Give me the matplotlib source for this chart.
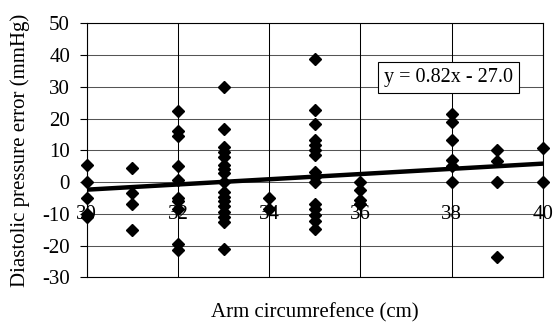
import numpy as np
import matplotlib
matplotlib.use("Agg")
import matplotlib.pyplot as plt

plt.rcParams['font.family'] = ['Liberation Serif', 'DejaVu Serif']
plt.rcParams['axes.unicode_minus'] = False

# arm circumference (cm) and diastolic error (mmHg)
arm_30 = [5.5, 0, -5, -10, -11]
arm_31 = [4.5, -3.5, -7, -15]
arm_32 = [22.5, 16, 14.5, 5, 0.5, -5, -6, -8.5, -19.5, -21.5]
arm_33 = [30, 16.8, 11, 9.5, 8, 5.5, 4, 2.8, 0, -3, -4.6, -6, -7.7, -9.3, -10.9, -12.7, -21]
arm_34 = [-5, -8.5]
arm_35 = [38.7, 22.8, 18.3, 13.3, 11.7, 10, 8.6, 3.3, 1.7, 0, -7, -8.5, -10.3, -12.4, -14.7]
arm_36 = [0, -2.5, -5.6, -7]
arm_38 = [21.5, 19, 13.3, 6.8, 5, 0]
arm_39 = [10, 6.5, 0, -23.5]
arm_40 = [10.8, 0]

groups = {30: arm_30, 31: arm_31, 32: arm_32, 33: arm_33, 34: arm_34,
          35: arm_35, 36: arm_36, 38: arm_38, 39: arm_39, 40: arm_40}

slope = 0.82
intercept = -27.0
x_ticks = [30, 32, 34, 36, 38, 40]
y_ticks = [-30, -20, -10, 0, 10, 20, 30, 40, 50]

fig = plt.figure(figsize=(5.53, 3.27), dpi=100)
ax = fig.add_axes([0.1568, 0.152, 0.8246, 0.7767])

xs = []
ys = []
for k, v in groups.items():
    xs += [k] * len(v)
    ys += v

for yt in y_ticks:
    ax.axhline(yt, color='#555555', lw=0.75, zorder=1)
for xt in x_ticks:
    ax.axvline(xt, color='black', lw=0.75, zorder=1)

ax.plot(xs, ys, 'D', color='black', ms=6.5, zorder=3, clip_on=False)

lx = np.array([30, 40])
ax.plot(lx, slope * lx + intercept, color='black', lw=3.2, zorder=4)

ax.set_xlim(30, 40)
ax.set_ylim(-30, 50)
ax.set_yticks(y_ticks)
ax.set_xticks([])
ax.tick_params(axis='y', labelsize=15, length=5, width=0.8, pad=7, direction='out')
for s in ax.spines.values():
    s.set_color('black')
    s.set_linewidth(0.8)

for xt in x_ticks:
    ax.text(xt, -10.3, str(xt), ha='center', va='center', fontsize=15, zorder=2)

ax.text(37.93, 33.0, 'y = 0.82x - 27.0', ha='center', va='center', fontsize=14.5,
        bbox=dict(boxstyle='square,pad=0.3', fc='white', ec='black', lw=0.8), zorder=5)

ax.set_xlabel('Arm circumrefence (cm)', fontsize=15)
ax.xaxis.set_label_coords(0.5, -0.14)
ax.xaxis.label.set_va('center')
ax.set_ylabel('Diastolic pressure error (mmHg)', fontsize=15)
ax.yaxis.set_label_coords(-0.146, 0.5)
ax.yaxis.label.set_va('center')

fig.savefig('out.png', dpi=100)
